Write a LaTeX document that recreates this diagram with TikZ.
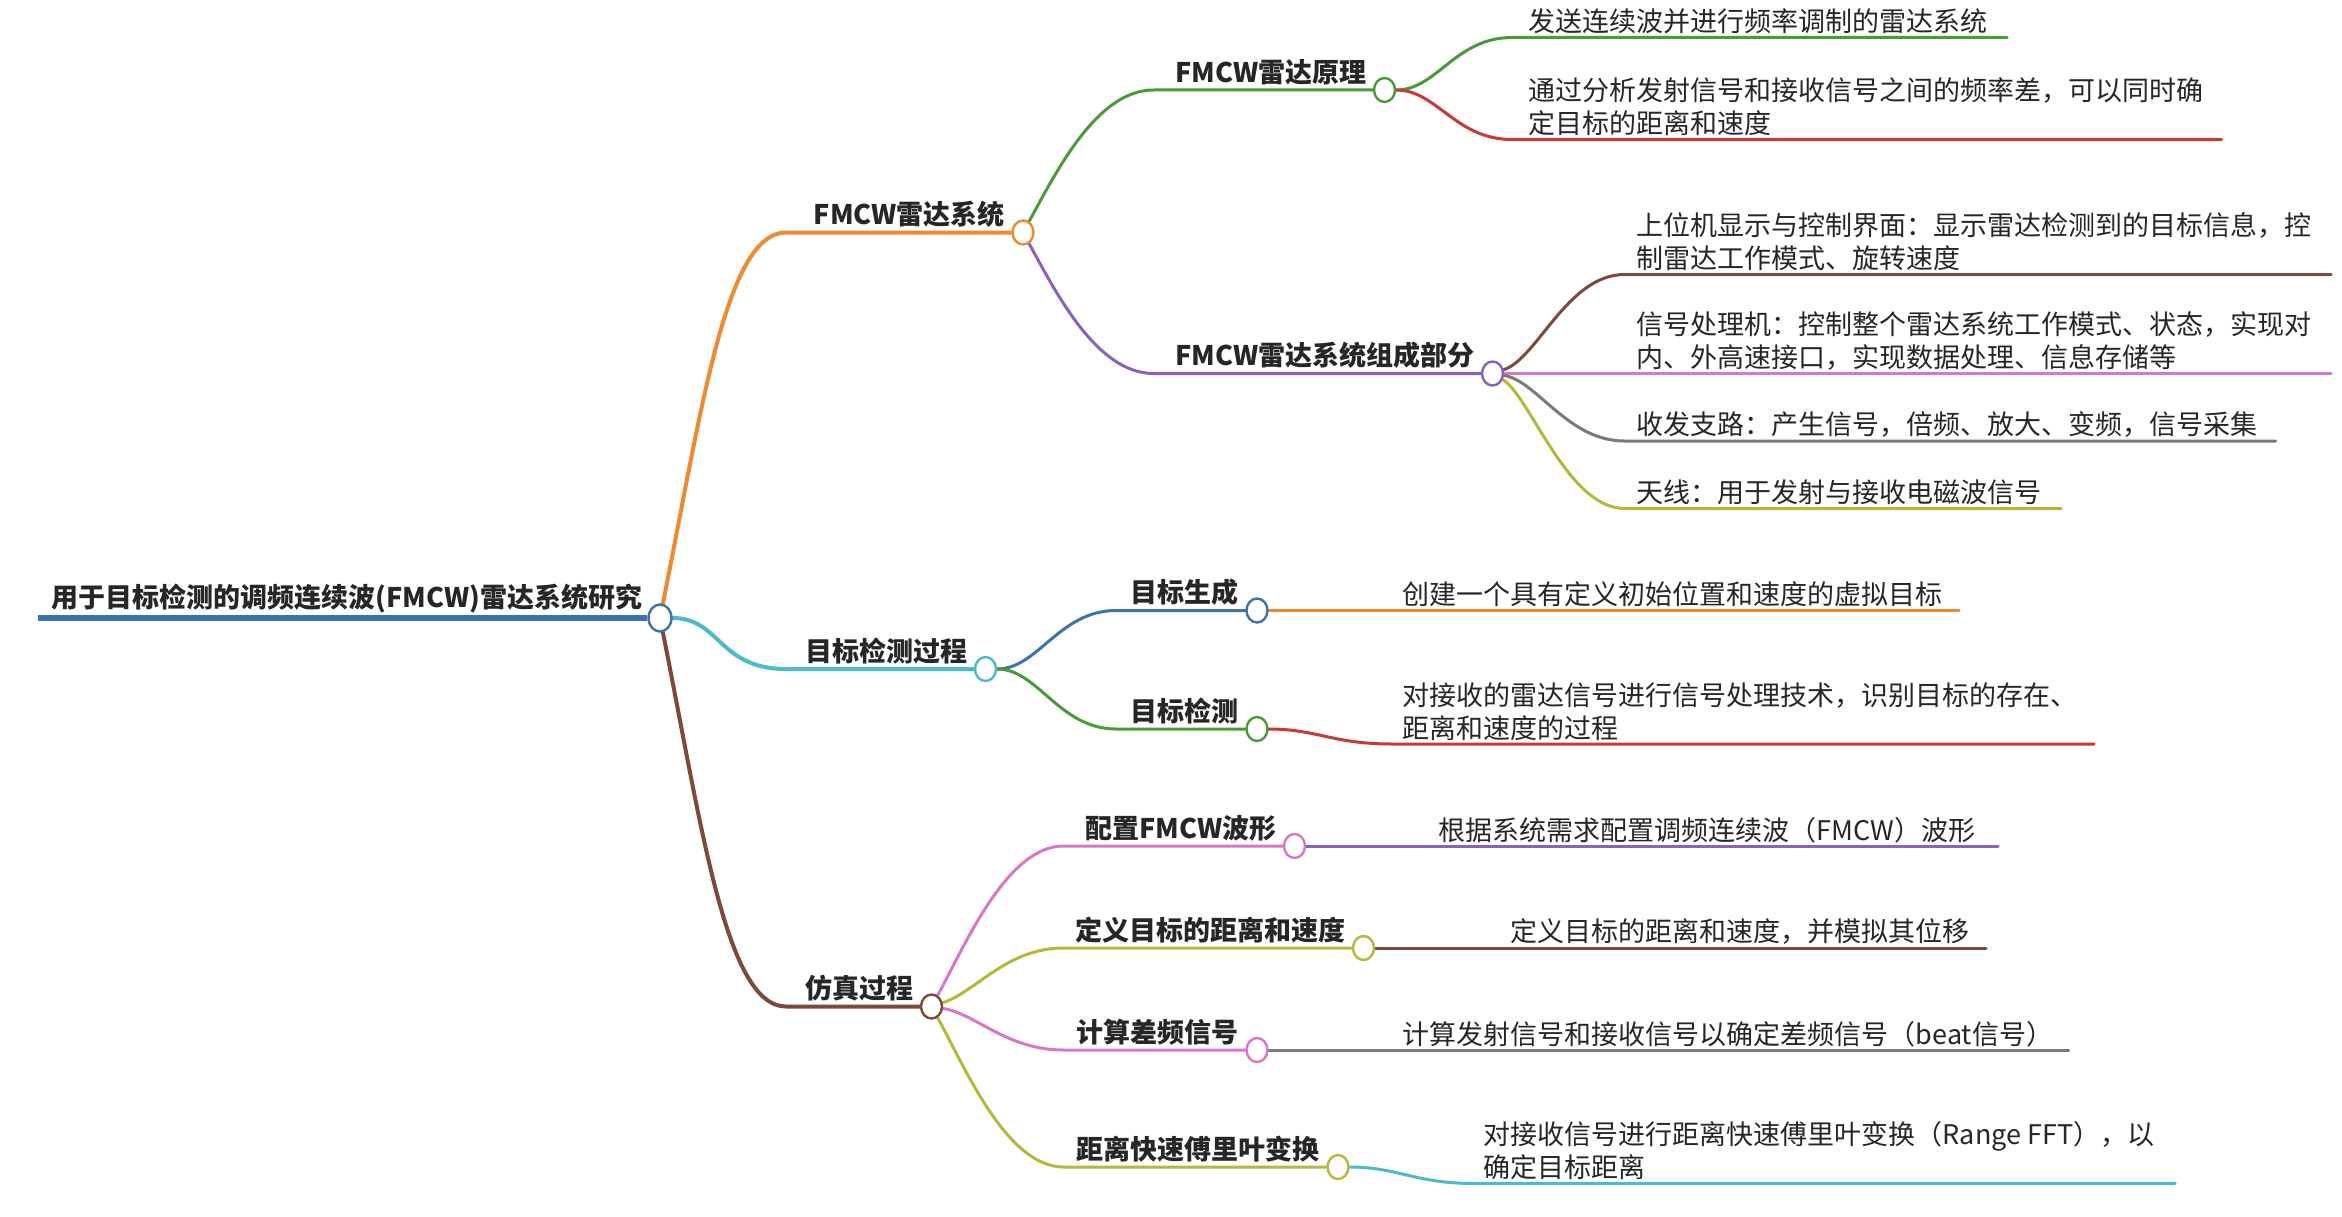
\documentclass[tikz,border=0pt]{standalone}
\usepackage{fontspec}
\setmainfont{Noto Sans CJK SC}
\usetikzlibrary{shapes.geometric,calc}
\pgfdeclarelayer{bg}
\pgfsetlayers{bg,main}
\definecolor{txt}{HTML}{262626}
\definecolor{cblue}{HTML}{3C72AE}
\definecolor{corange}{HTML}{F08A30}
\definecolor{ccyan}{HTML}{4DBACB}
\definecolor{cbrown}{HTML}{7B4A3C}
\definecolor{cgreen}{HTML}{4A9A3A}
\definecolor{cpurple}{HTML}{8A60C0}
\definecolor{cred}{HTML}{C83A38}
\definecolor{cpink}{HTML}{D977C2}
\definecolor{cgray}{HTML}{7A7A7A}
\definecolor{colive}{HTML}{B5B83A}
\tikzset{
  dot/.style={draw=#1, fill=white, ellipse, minimum width=10.5pt, minimum height=12pt, inner sep=0pt, line width=1.2pt},
  lab/.style={font=\fontsize{13.5}{16.5}\selectfont\bfseries, text=txt, inner sep=0pt, anchor=south east},
  leaf/.style={font=\fontsize{13.5}{16.5}\selectfont, text=txt, inner sep=0pt, anchor=south west, align=left},
  lone/.style={line width=2pt, line cap=round},
  ltwo/.style={line width=1.5pt, line cap=round},
}
\begin{document}
\begin{tikzpicture}[x=0.75pt,y=-0.75pt]
\useasboundingbox (0,0) rectangle (1561.33,810.67);
% circles
\node[dot=cblue, minimum width=11.5pt, minimum height=13.5pt] (root) at (440,412) {};
\node[dot=corange] (c1) at (682,155) {};
\node[dot=ccyan] (c2) at (657,446) {};
\node[dot=cbrown] (c3) at (621,671) {};
\node[dot=cgreen] (c11) at (923,60) {};
\node[dot=cpurple] (c12) at (995,249) {};
\node[dot=cblue] (c21) at (838,407) {};
\node[dot=cgreen] (c22) at (838,486) {};
\node[dot=cpink] (c31) at (863,564) {};
\node[dot=colive] (c32) at (909,632) {};
\node[dot=cpink] (c33) at (838,700) {};
\node[dot=colive] (c34) at (892,778) {};
% coordinates
\coordinate (rs) at (25,412);
\coordinate (e1) at (524,155);
\coordinate (e2) at (524,446);
\coordinate (e3) at (524,671);
\coordinate (e11) at (769,60);
\coordinate (e12) at (769,249);
\coordinate (e111) at (1008,25);   \coordinate (f111) at (1338,25);
\coordinate (e112) at (1008,93);   \coordinate (f112) at (1481,93);
\coordinate (e121) at (1083,183);  \coordinate (f121) at (1554,183);
\coordinate (f122) at (1554,249);
\coordinate (e123) at (1083,294);  \coordinate (f123) at (1517,294);
\coordinate (e124) at (1083,339);  \coordinate (f124) at (1374,339);
\coordinate (e21) at (744,407);
\coordinate (e22) at (744,486);
\coordinate (f211) at (1306,407);
\coordinate (e221) at (928,496);   \coordinate (f221) at (1396,496);
\coordinate (e31) at (709,564);
\coordinate (e32) at (709,632);
\coordinate (e33) at (709,700);
\coordinate (e34) at (709,778);
\coordinate (f311) at (1332,564);
\coordinate (f321) at (1324,632);
\coordinate (f331) at (1379,700);
\coordinate (e341) at (983,789);   \coordinate (f341) at (1450,789);
% labels
\node[lab] at ($(root.west)+(-3,-3)$) {用于目标检测的调频连续波(FMCW)雷达系统研究};
\node[lab] at ($(c1.west)+(-4,-3)$) {FMCW雷达系统};
\node[lab] at ($(c2.west)+(-4,-3)$) {目标检测过程};
\node[lab] at ($(c3.west)+(-4,-3)$) {仿真过程};
\node[lab] at ($(c11.west)+(-4,-3)$) {FMCW雷达原理};
\node[lab] at ($(c12.west)+(-4,-3)$) {FMCW雷达系统组成部分};
\node[lab] at ($(c21.west)+(-4,-3)$) {目标生成};
\node[lab] at ($(c22.west)+(-4,-3)$) {目标检测};
\node[lab] at ($(c31.west)+(-4,-3)$) {配置FMCW波形};
\node[lab] at ($(c32.west)+(-4,-3)$) {定义目标的距离和速度};
\node[lab] at ($(c33.west)+(-4,-3)$) {计算差频信号};
\node[lab] at ($(c34.west)+(-4,-3)$) {距离快速傅里叶变换};
% leaves
\node[leaf] at (1019,23) {发送连续波并进行频率调制的雷达系统};
\node[leaf] at (1019,91) {通过分析发射信号和接收信号之间的频率差，可以同时确\\定目标的距离和速度};
\node[leaf] at (1091,181) {上位机显示与控制界面：显示雷达检测到的目标信息，控\\制雷达工作模式、旋转速度};
\node[leaf] at (1091,247) {信号处理机：控制整个雷达系统工作模式、状态，实现对\\内、外高速接口，实现数据处理、信息存储等};
\node[leaf] at (1091,292) {收发支路：产生信号，倍频、放大、变频，信号采集};
\node[leaf] at (1091,337) {天线：用于发射与接收电磁波信号};
\node[leaf] at (935,405) {创建一个具有定义初始位置和速度的虚拟目标};
\node[leaf] at (935,494) {对接收的雷达信号进行信号处理技术，识别目标的存在、\\距离和速度的过程};
\node[leaf] at (959,562) {根据系统需求配置调频连续波（FMCW）波形};
\node[leaf] at (1007,630) {定义目标的距离和速度，并模拟其位移};
\node[leaf] at (935,698) {计算发射信号和接收信号以确定差频信号（beat信号）};
\node[leaf] at (989,787) {对接收信号进行距离快速傅里叶变换（Range FFT），以\\确定目标距离};
% connectors
\begin{pgfonlayer}{bg}
\draw[cblue, line width=3pt] (rs) -- (root);
\draw[corange, lone] (root) .. controls +(28,-140) and +(-40,0) .. (e1) -- (c1);
\draw[ccyan, lone] (root) .. controls +(40,0) and +(-45,0) .. (e2) -- (c2);
\draw[cbrown, lone] (root) .. controls +(28,140) and +(-40,0) .. (e3) -- (c3);
\draw[cgreen, ltwo] (c1) .. controls +(22,-40) and +(-38,0) .. (e11) -- (c11);
\draw[cpurple, ltwo] (c1) .. controls +(22,40) and +(-38,0) .. (e12) -- (c12);
\draw[cgreen, ltwo] (c11) .. controls +(35,0) and +(-38,0) .. (e111) -- (f111);
\draw[cred, ltwo] (c11) .. controls +(35,0) and +(-38,0) .. (e112) -- (f112);
\draw[cbrown, ltwo] (c12) .. controls +(30,-10) and +(-38,0) .. (e121) -- (f121);
\draw[cpink, ltwo] (c12) -- (f122);
\draw[cgray, ltwo] (c12) .. controls +(30,5) and +(-38,0) .. (e123) -- (f123);
\draw[colive, ltwo] (c12) .. controls +(25,15) and +(-38,0) .. (e124) -- (f124);
\draw[cblue, ltwo] (c2) .. controls +(35,0) and +(-38,0) .. (e21) -- (c21);
\draw[cgreen, ltwo] (c2) .. controls +(35,0) and +(-38,0) .. (e22) -- (c22);
\draw[corange, ltwo] (c21) -- (f211);
\draw[cred, ltwo] (c22) .. controls +(40,0) and +(-40,0) .. (e221) -- (f221);
\draw[cpink, ltwo] (c3) .. controls +(22,-40) and +(-38,0) .. (e31) -- (c31);
\draw[colive, ltwo] (c3) .. controls +(30,-10) and +(-38,0) .. (e32) -- (c32);
\draw[cpink, ltwo] (c3) .. controls +(30,5) and +(-38,0) .. (e33) -- (c33);
\draw[colive, ltwo] (c3) .. controls +(22,40) and +(-38,0) .. (e34) -- (c34);
\draw[cpurple, ltwo] (c31) -- (f311);
\draw[cbrown, ltwo] (c32) -- (f321);
\draw[cgray, ltwo] (c33) -- (f331);
\draw[ccyan, ltwo] (c34) .. controls +(40,0) and +(-40,0) .. (e341) -- (f341);
\end{pgfonlayer}
\end{tikzpicture}
\end{document}
